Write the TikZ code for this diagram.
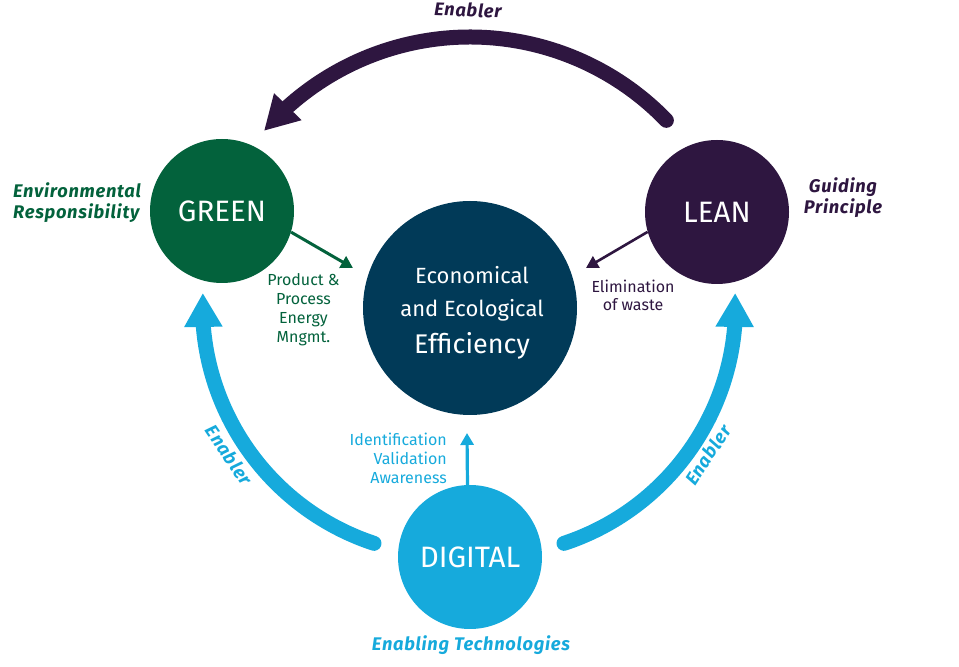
\documentclass[tikz,border=0pt]{standalone}
\usepackage{fontspec}
\setmainfont{Fira Sans}
\usetikzlibrary{arrows.meta,bending}
\definecolor{cgreen}{RGB}{3,98,60}
\definecolor{clean}{RGB}{46,22,64}
\definecolor{cnavy}{RGB}{1,58,88}
\definecolor{cblue}{RGB}{22,170,220}
\begin{document}
\begin{tikzpicture}[x=1pt,y=1pt,
  hub/.style={circle,minimum size=144pt,inner sep=0pt,text=white,font=\fontsize{29.5}{34}\selectfont},
  bigarc/.style={line width=15pt,line cap=round},
  bighead/.style={-{Triangle[length=34pt,width=36pt]}},
  smallarrow/.style={-{Triangle[length=12pt,width=13pt]}},
  lbl/.style={font=\fontsize{16}{19}\selectfont,align=center,inner sep=0pt},
  tag/.style={font=\fontsize{18.3}{21}\selectfont\bfseries\itshape\addfontfeatures{LetterSpace=4},inner sep=0pt,align=center}]
\useasboundingbox (0,0) rectangle (959,667);
% circles
\node[hub,fill=cgreen] (green) at (222,456) {GREEN};
\node[hub,fill=clean] (lean) at (717,455) {LEAN};
\node[hub,fill=cblue] (digital) at (470,110) {DIGITAL};
\node[circle,minimum size=214pt,inner sep=0pt,fill=cnavy] (eff) at (470,359) {};
\node[inner sep=0pt,align=center,text=white,font=\fontsize{22}{33}\selectfont] (efftext) at (472,354)
  {Economical\\and Ecological\\[4pt]{\fontsize{27}{33}\selectfont Efficiency}};
% big arcs
\coordinate (topc) at (470,357);
\coordinate (lc) at (452.5,361);
\coordinate (rc) at (485.5,361);
\draw[bigarc,bighead,clean] ([shift={(44:273)}]topc) arc[start angle=44,end angle=139,radius=273];
\draw[bigarc,bighead,cblue] ([shift={(251.7:250)}]lc) arc[start angle=251.7,end angle=177,radius=250];
\draw[bigarc,bighead,cblue] ([shift={(-71.7:250)}]rc) arc[start angle=-71.7,end angle=3,radius=250];
% small arrows
\coordinate (gtip) at (353,399);
\coordinate (ltip) at (586,399);
\coordinate (dtip) at (467,234);
\draw[smallarrow,cgreen,line width=3pt] (green.-17) -- (gtip);
\draw[smallarrow,clean,line width=2.6pt] (lean.196) -- (ltip);
\draw[smallarrow,cblue,line width=3.2pt] (digital.92.4) -- (dtip);
% labels
\node[tag,text=clean,rotate=-2] (enabtop) at (468,657) {Enabler};
\node[tag,text=cgreen,anchor=west,align=left] (envresp) at (13,464) {Environmental\\Responsibility};
\node[tag,text=clean] (guide) at (843,469) {Guiding\\Principle};
\node[lbl,text=cgreen] (ppe) at (303.5,357) {Product \&\\Process\\Energy\\Mngmt.};
\node[lbl,text=clean,font=\fontsize{16}{18}\selectfont] (elim) at (633,372) {Elimination\\of waste};
\node[lbl,text=cblue,anchor=east,align=right] (iva) at (447,209) {Identification\\Validation\\Awareness};
\node[tag,text=cblue] (entech) at (471,21.5) {Enabling Technologies};
\node[tag,text=cblue,rotate=-56] (enl) at (229,212) {Enabler};
\node[tag,text=cblue,rotate=57] (enr) at (708,212) {Enabler};
\end{tikzpicture}
\end{document}
